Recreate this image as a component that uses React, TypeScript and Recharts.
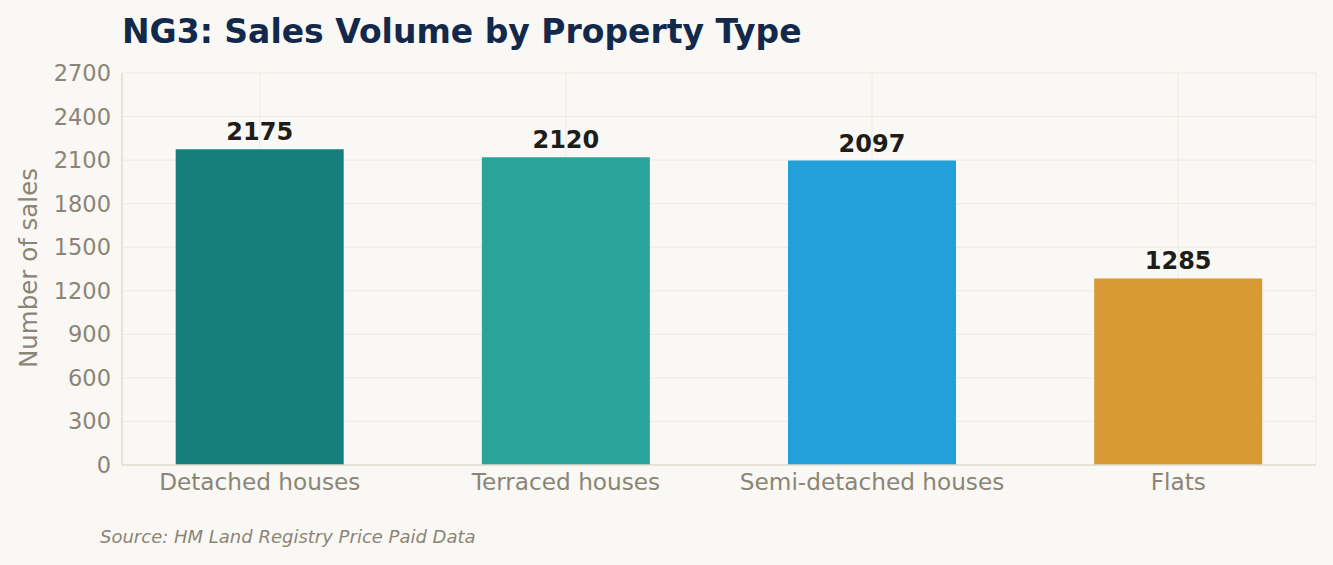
import React from 'react';
import { BarChart, Bar, XAxis, YAxis, CartesianGrid, Cell, LabelList } from 'recharts';

const categories = ['Detached houses', 'Terraced houses', 'Semi-detached houses', 'Flats'];
const salesCounts = [2175, 2120, 2097, 1285];
const barColors = ['#167f7e', '#2aa39a', '#239fd9', '#d89a34'];
const yTicks = [0, 300, 600, 900, 1200, 1500, 1800, 2100, 2400, 2700];
const xTicks = [0, 1, 2, 3];

const data = categories.map((name, i) => ({ idx: i, name, sales: salesCounts[i] }));

const FONT = '"DejaVu Sans", sans-serif';
const BG = '#f9f8f4';
const TICK = '#8b8576';

export default function App() {
  return (
    <div style={{ position: 'absolute', left: 0, top: 0, width: 1333, height: 565, background: BG, fontFamily: FONT }}>
      <BarChart
        width={1333}
        height={565}
        data={data}
        margin={{ top: 73, right: 17, bottom: 70, left: 0 }}
      >
        <CartesianGrid stroke="#eeebe3" strokeWidth={1} />
        <XAxis
          type="number"
          dataKey="idx"
          domain={[-0.45, 3.45]}
          ticks={xTicks}
          interval={0}
          tickFormatter={(v: number) => categories[v] ?? ''}
          tickLine={false}
          tickSize={0}
          tickMargin={9}
          axisLine={{ stroke: '#e2ddcf', strokeWidth: 1.5 }}
          tick={{ fill: TICK, fontSize: 23.2, fontFamily: FONT }}
          height={30}
        />
        <YAxis
          type="number"
          domain={[0, 2700]}
          ticks={yTicks}
          interval={0}
          width={122}
          tickLine={false}
          tickSize={0}
          tickMargin={11}
          axisLine={{ stroke: '#e2ddcf', strokeWidth: 1.5 }}
          tick={{ fill: TICK, fontSize: 22.5, fontFamily: FONT }}
        />
        <Bar dataKey="sales" barSize={168} isAnimationActive={false}>
          {data.map((d, i) => (
            <Cell key={d.name} fill={barColors[i]} />
          ))}
          <LabelList
            dataKey="sales"
            position="top"
            offset={9}
            fill="#1f1d1a"
            fontSize={24}
            fontWeight="bold"
            fontFamily={FONT}
          />
        </Bar>
      </BarChart>
      <svg
        width={1333}
        height={565}
        style={{ position: 'absolute', left: 0, top: 0, pointerEvents: 'none' }}
      >
        <text x={122} y={43} fill="#13294b" fontSize={33} fontWeight="bold" fontFamily={FONT}>
          NG3: Sales Volume by Property Type
        </text>
        <text
          transform="translate(37,268) rotate(-90)"
          textAnchor="middle"
          fill={TICK}
          fontSize={24.5}
          fontFamily={FONT}
        >
          Number of sales
        </text>
        <text x={100} y={543} fill={TICK} fontSize={18} fontStyle="italic" fontFamily={FONT}>
          Source: HM Land Registry Price Paid Data
        </text>
      </svg>
    </div>
  );
}
